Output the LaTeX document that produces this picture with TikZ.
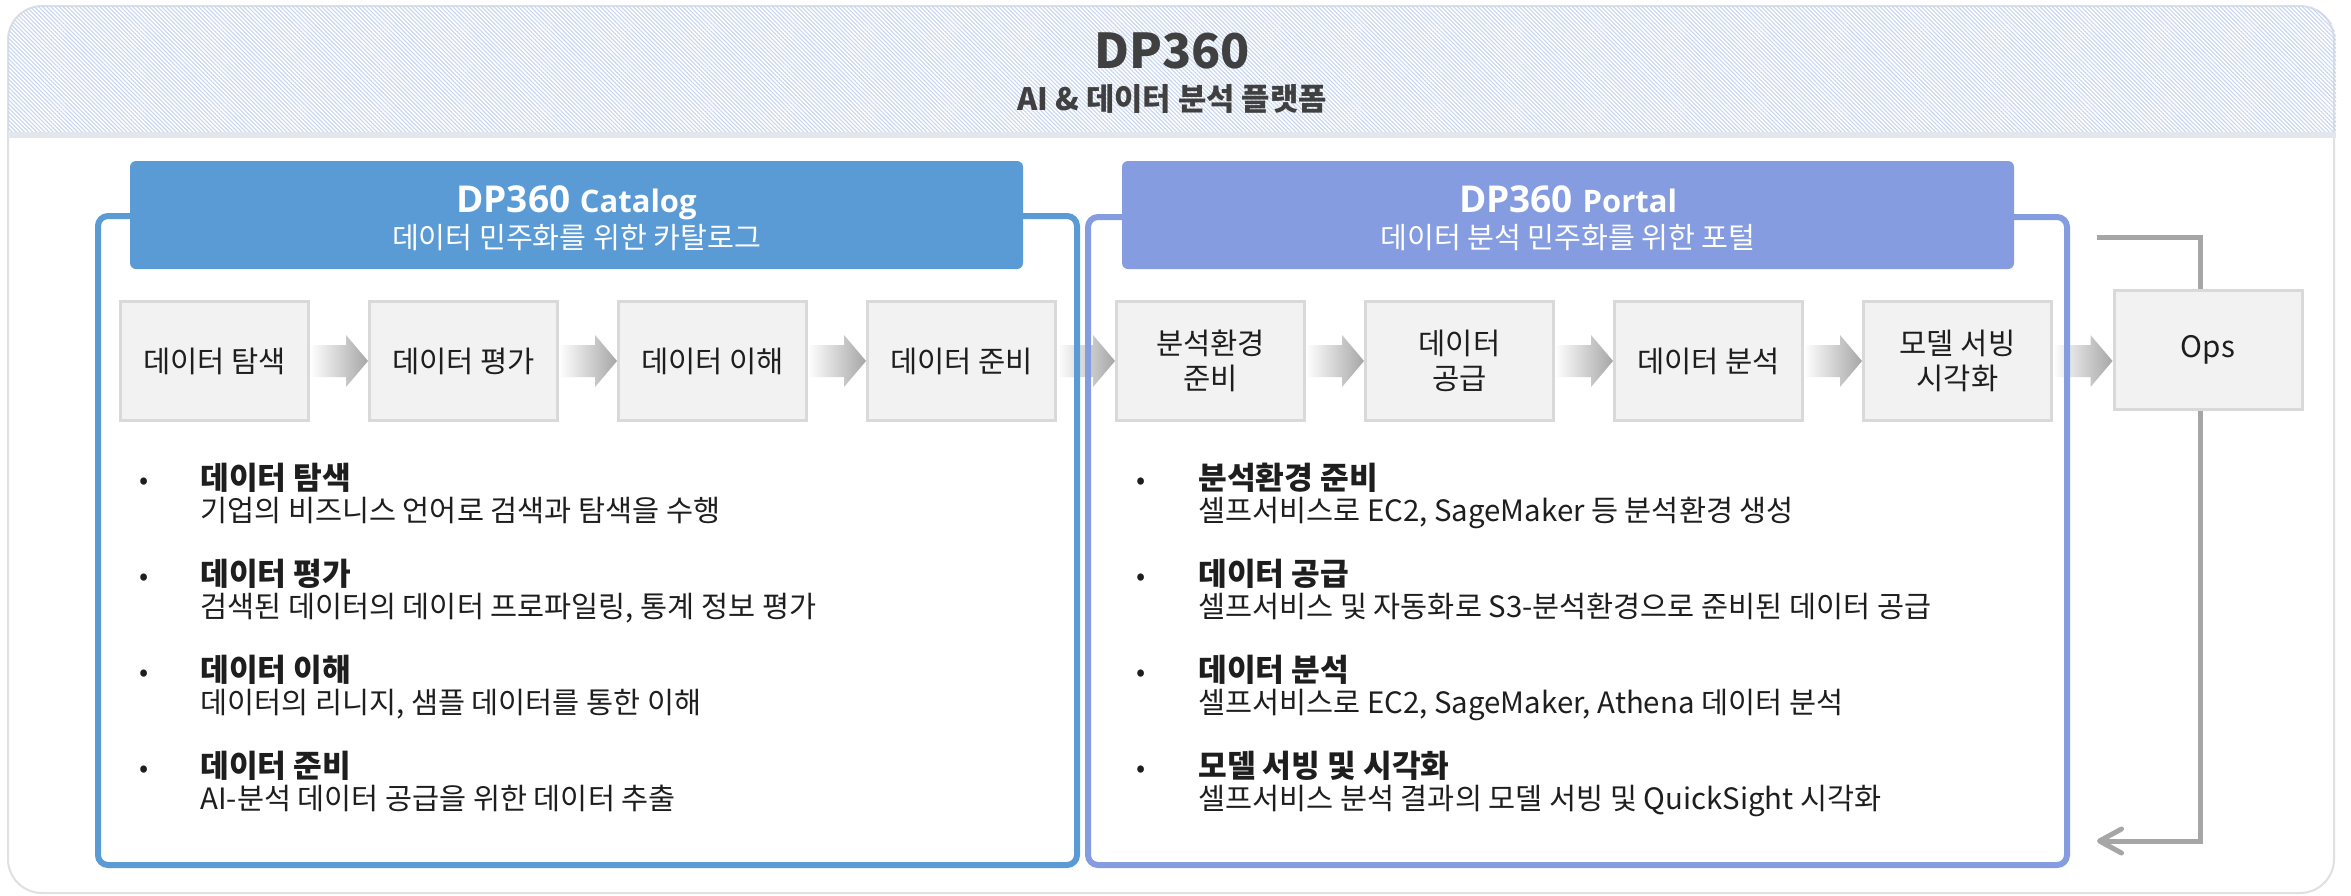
\documentclass[tikz,border=0pt]{standalone}
\usepackage{fontspec}
\setmainfont{Noto Sans CJK KR}
\newfontfamily\latinfont{Open Sans}
\usetikzlibrary{arrows.meta,patterns.meta,calc}

\definecolor{catblue}{HTML}{5B9BD5}
\definecolor{portblue}{HTML}{859CE0}
\definecolor{hatchblue}{HTML}{C8D6F0}
\definecolor{bandgray}{HTML}{E3E6EC}
\definecolor{framegray}{HTML}{E0E0E0}
\definecolor{boxfill}{HTML}{F2F2F2}
\definecolor{boxline}{HTML}{D9D9D9}
\definecolor{flowgray}{HTML}{A6A6A6}
\definecolor{headtext}{HTML}{404040}
\definecolor{bodytext}{HTML}{1E1E1E}

% block arrow from one step box to the next
\newcommand{\stepflow}[2]{%
  \path (#1.east) coordinate (fa) (#1.east -| #2.west) coordinate (fb);
  \shade[left color=white, right color=flowgray]
    ($(fa)+(0,-16)$) -- ($(fb)+(-22,-16)$) -- ($(fb)+(-22,-26)$) -- (fb)
    -- ($(fb)+(-22,26)$) -- ($(fb)+(-22,16)$) -- ($(fa)+(0,16)$) -- cycle;
}

\begin{document}
\begin{tikzpicture}[x=0.5pt,y=-0.5pt,
  stepbox/.style={draw=boxline, line width=1.5pt, fill=boxfill,
    minimum width=94pt, minimum height=59.5pt, inner sep=0pt, align=center,
    text=bodytext, font=\fontsize{14.8}{17.5}\selectfont},
  bartext/.style={text=white, anchor=base, inner sep=0pt},
  bul/.style={anchor=base, inner sep=0pt, text=bodytext,
    font=\fontsize{13.5}{16}\selectfont},
  itemtitle/.style={anchor=base west, inner sep=0pt, text=bodytext,
    font=\bfseries\fontsize{15.6}{18}\selectfont},
  itemtext/.style={anchor=base west, inner sep=0pt, text=bodytext,
    font=\fontsize{14.7}{17}\selectfont},
  feedback/.style={draw=flowgray, line width=2.5pt}]

\useasboundingbox (0,0) rectangle (2351,895);
\fill[white] (0,0) rectangle (2351,895);

% Outer frame and hatched header
\draw[framegray, line width=1pt, rounded corners=17pt] (8,6) rectangle (2334,893);
\fill[pattern={Lines[angle=-45,distance=1.45pt,line width=0.55pt]}, pattern color=hatchblue]
  (8,132) [rounded corners=17pt] -- (8,6) -- (2336,6) [sharp corners] -- (2336,132) -- cycle;
\fill[bandgray] (8,132) rectangle (2336,138);

\node[anchor=base, inner sep=0pt, text=headtext, font=\bfseries\fontsize{24}{28}\selectfont]
  (title) at (1172,68) {DP360};
\node[anchor=base, inner sep=0pt, text=headtext, font=\bfseries\fontsize{15.4}{18}\selectfont]
  (subtitle) at (1172,110) {AI \& 데이터 분석 플랫폼};

% Step boxes
\node[stepbox] (explore) at (214.5,361) {데이터 탐색};
\node[stepbox] (assess) at (463.5,361) {데이터 평가};
\node[stepbox] (understand) at (712.5,361) {데이터 이해};
\node[stepbox] (prepare) at (961.5,361) {데이터 준비};
\node[stepbox] (envprep) at (1210.5,361) {분석환경\\준비};
\node[stepbox] (supply) at (1459.5,361) {데이터\\공급};
\node[stepbox] (analyze) at (1708.5,361) {데이터 분석};
\node[stepbox] (serve) at (1957.5,361) {모델 서빙\\시각화};
\node[stepbox] (ops) at (2208,350) {Ops};

% Flow arrows
\stepflow{explore}{assess}
\stepflow{assess}{understand}
\stepflow{understand}{prepare}
\stepflow{prepare}{envprep}
\stepflow{envprep}{supply}
\stepflow{supply}{analyze}
\stepflow{analyze}{serve}
\stepflow{serve}{ops}

% Ops loop
\coordinate (opsback) at (2097,237);
\coordinate (opsreturn) at (2097,841);
\draw[feedback] (opsback) -| ([xshift=-4pt]ops.north);
\draw[feedback, -{Straight Barb[length=11pt,width=12pt,round]}]
  ([xshift=-4pt]ops.south) |- (opsreturn);

% ---- Catalog ----
\draw[catblue, line width=3pt, rounded corners=5pt] (98,216) rectangle (1077,865);
\node[fill=catblue, rounded corners=3pt, minimum width=446.5pt, minimum height=54pt,
  inner sep=0pt] (catbar) at (576.5,215) {};
\node[bartext, font=\latinfont\bfseries\fontsize{18.5}{22}\selectfont] (cattitle)
  at (576.5,212) {DP360 {\fontsize{15.5}{18}\selectfont Catalog}};
\node[bartext, font=\fontsize{14.6}{17}\selectfont] (catsub)
  at (576.5,248) {데이터 민주화를 위한 카탈로그};

% Catalog items
\node[bul] (cb1) at (144,489) {•};
\node[itemtitle] (ct1) at (200,489) {데이터 탐색};
\node[itemtext] (cd1) at (200,521) {기업의 비즈니스 언어로 검색과 탐색을 수행};
\node[bul] (cb2) at (144,585) {•};
\node[itemtitle] (ct2) at (200,585) {데이터 평가};
\node[itemtext] (cd2) at (200,617) {검색된 데이터의 데이터 프로파일링, 통계 정보 평가};
\node[bul] (cb3) at (144,681) {•};
\node[itemtitle] (ct3) at (200,681) {데이터 이해};
\node[itemtext] (cd3) at (200,713) {데이터의 리니지, 샘플 데이터를 통한 이해};
\node[bul] (cb4) at (144,777) {•};
\node[itemtitle] (ct4) at (200,777) {데이터 준비};
\node[itemtext] (cd4) at (200,809) {AI-분석 데이터 공급을 위한 데이터 추출};

% ---- Portal ----
\draw[portblue, line width=3pt, rounded corners=5pt] (1088,217) rectangle (2067,865);
\node[fill=portblue, rounded corners=3pt, minimum width=446pt, minimum height=54pt,
  inner sep=0pt] (portbar) at (1568,215) {};
\node[bartext, font=\latinfont\bfseries\fontsize{18.5}{22}\selectfont] (porttitle)
  at (1568,212) {DP360 {\fontsize{15.5}{18}\selectfont Portal}};
\node[bartext, font=\fontsize{14.6}{17}\selectfont] (portsub)
  at (1568,248) {데이터 분석 민주화를 위한 포털};

% Portal items
\node[bul] (pb1) at (1141,489) {•};
\node[itemtitle] (pt1) at (1198,489) {분석환경 준비};
\node[itemtext] (pd1) at (1198,521) {셀프서비스로 EC2, SageMaker 등 분석환경 생성};
\node[bul] (pb2) at (1141,585) {•};
\node[itemtitle] (pt2) at (1198,585) {데이터 공급};
\node[itemtext] (pd2) at (1198,617) {셀프서비스 및 자동화로 S3-분석환경으로 준비된 데이터 공급};
\node[bul] (pb3) at (1141,681) {•};
\node[itemtitle] (pt3) at (1198,681) {데이터 분석};
\node[itemtext] (pd3) at (1198,713) {셀프서비스로 EC2, SageMaker, Athena 데이터 분석};
\node[bul] (pb4) at (1141,777) {•};
\node[itemtitle] (pt4) at (1198,777) {모델 서빙 및 시각화};
\node[itemtext] (pd4) at (1198,809) {셀프서비스 분석 결과의 모델 서빙 및 QuickSight 시각화};

\end{tikzpicture}
\end{document}
